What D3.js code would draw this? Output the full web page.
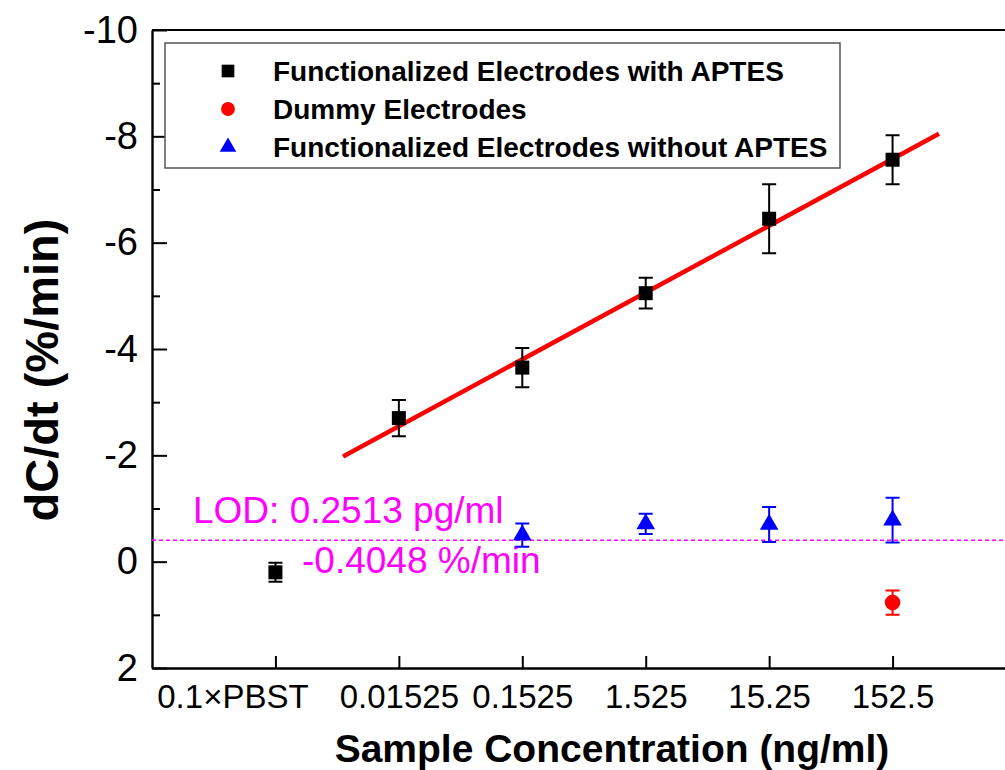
<!DOCTYPE html>
<html>
<head>
<meta charset="utf-8">
<script src="https://cdn.jsdelivr.net/npm/d3@7/dist/d3.min.js"></script>
<style>
  html, body { margin: 0; padding: 0; background: #fff; }
  svg { display: block; font-family: "Liberation Sans", Arial, sans-serif; }
</style>
</head>
<body>
<svg id="chart" width="1005" height="770"></svg>
<script>
// Sample concentrations (ng/ml) on the categorical x axis
const categories = ["0.1×PBST", "0.01525", "0.1525", "1.525", "15.25", "152.5"];

// Functionalized electrodes with APTES: mean dC/dt and error
const withAptesCats = ["0.1×PBST", "0.01525", "0.1525", "1.525", "15.25", "152.5"];
const withAptesVals = [0.2, -2.7, -3.65, -5.05, -6.45, -7.56];
const withAptesErr  = [0.18, 0.34, 0.37, 0.29, 0.65, 0.46];

// Dummy electrodes
const dummyCats = ["152.5"];
const dummyVals = [0.77];
const dummyErr  = [0.23];

// Functionalized electrodes without APTES
const withoutAptesCats = ["0.1525", "1.525", "15.25", "152.5"];
const withoutAptesVals = [-0.5, -0.71, -0.7, -0.78];
const withoutAptesErr  = [0.22, 0.19, 0.33, 0.42];

// Linear fit in category-index units: value = intercept + slope * index
const fitSlope = -1.257;
const fitIntercept = -1.291;
const fitIndexRange = [0.548, 5.376];

// Limit of detection level
const lodValue = -0.4048;
const lodLabel = "LOD: 0.2513 pg/ml";
const lodValueLabel = "-0.4048 %/min";

// Axis ticks
const yMajorTicks = [-10, -8, -6, -4, -2, 0, 2];
const yMinorTicks = [-9, -7, -5, -3, -1, 1];

const legendLabels = [
  "Functionalized Electrodes with APTES",
  "Dummy Electrodes",
  "Functionalized Electrodes without APTES"
];

const svg = d3.select("#chart");
const plotLeft = 152, plotRight = 1016, plotTop = 30, plotBottom = 668;

const xi = d3.scaleLinear().domain([-1, categories.length]).range([plotLeft, plotRight]);
const xc = c => xi(categories.indexOf(c));
const y = d3.scaleLinear().domain([-10, 2]).range([plotTop, plotBottom]);

// Frame (top and right edges)
svg.append("path")
  .attr("d", `M${plotLeft},${plotTop}H${plotRight}V${plotBottom}`)
  .attr("fill", "none").attr("stroke", "#000").attr("stroke-width", 2);

// Y axis with inward ticks
const yAxis = svg.append("g").attr("transform", `translate(${plotLeft},0)`)
  .call(d3.axisLeft(y).tickValues(yMajorTicks).tickSize(-15).tickSizeOuter(0)
    .tickPadding(14).tickFormat(d => String(d)));
svg.append("g").attr("transform", `translate(${plotLeft},0)`)
  .call(d3.axisLeft(y).tickValues(yMinorTicks).tickSize(-8).tickSizeOuter(0).tickFormat(""))
  .call(g => g.select(".domain").remove());

// X axis with inward ticks
const xAxis = svg.append("g").attr("transform", `translate(0,${plotBottom})`)
  .call(d3.axisBottom(xi).tickValues(d3.range(categories.length)).tickSize(-12).tickSizeOuter(0)
    .tickPadding(17).tickFormat(i => categories[i]));

svg.selectAll(".domain").attr("stroke-width", 2.4);
svg.selectAll(".tick line").attr("stroke-width", 2);
yAxis.selectAll("text").attr("font-size", 38).attr("fill", "#000")
  .attr("font-family", "Liberation Sans, Arial, sans-serif");
xAxis.selectAll("text").attr("font-size", 33).attr("fill", "#000")
  .attr("font-family", "Liberation Sans, Arial, sans-serif")
  .attr("dx", (d, i) => i === 0 ? -43 : 0);

// Axis titles
svg.append("text")
  .attr("x", 612).attr("y", 762)
  .attr("text-anchor", "middle").attr("font-weight", "bold").attr("font-size", 39)
  .text("Sample Concentration (ng/ml)");
svg.append("text")
  .attr("transform", "translate(58,370) rotate(-90)")
  .attr("text-anchor", "middle").attr("font-weight", "bold").attr("font-size", 47)
  .text("dC/dt (%/min)");

// LOD dashed line and labels
svg.append("line")
  .attr("x1", plotLeft).attr("x2", plotRight).attr("y1", y(lodValue)).attr("y2", y(lodValue))
  .attr("stroke", "#ff00ff").attr("stroke-width", 1.5).attr("stroke-dasharray", "4,3");
svg.append("text").attr("x", 193).attr("y", y(lodValue) - 17)
  .attr("fill", "#ff00ff").attr("font-size", 37).text(lodLabel);
svg.append("text").attr("x", 302).attr("y", y(lodValue) + 33)
  .attr("fill", "#ff00ff").attr("font-size", 37).text(lodValueLabel);

// Error bars + markers for one series
function drawSeries(cats, vals, errs, color, symbolType, size) {
  const g = svg.append("g");
  const data = cats.map((c, i) => ({ c, v: vals[i], e: errs[i] }));
  const capW = 7;
  data.forEach(d => {
    const x = xc(d.c), y1 = y(d.v - d.e), y2 = y(d.v + d.e);
    g.append("path")
      .attr("d", `M${x},${y1}V${y2}M${x - capW},${y1}H${x + capW}M${x - capW},${y2}H${x + capW}`)
      .attr("stroke", color).attr("stroke-width", 2).attr("fill", "none");
  });
  g.selectAll(".m").data(data).join("path")
    .attr("transform", d => `translate(${xc(d.c)},${y(d.v)})`)
    .attr("d", d3.symbol().type(symbolType).size(size))
    .attr("fill", color);
}

// Fit line
const fitLine = d3.line().x(d => xi(d)).y(d => y(fitIntercept + fitSlope * d));
svg.append("path").datum(fitIndexRange)
  .attr("d", fitLine).attr("stroke", "#ff0000").attr("stroke-width", 4.5).attr("fill", "none");

drawSeries(withAptesCats, withAptesVals, withAptesErr, "#000", d3.symbolSquare, 196);
drawSeries(withoutAptesCats, withoutAptesVals, withoutAptesErr, "#0000ff", d3.symbolTriangle, 150);
drawSeries(dummyCats, dummyVals, dummyErr, "#ff0000", d3.symbolCircle, 190);

// Legend
const legend = svg.append("g");
legend.append("rect").attr("x", 165).attr("y", 43).attr("width", 675).attr("height", 125)
  .attr("fill", "#fff").attr("stroke", "#555").attr("stroke-width", 1.5);
const legendSymbols = [
  { type: d3.symbolSquare, color: "#000", size: 160 },
  { type: d3.symbolCircle, color: "#ff0000", size: 150 },
  { type: d3.symbolTriangle, color: "#0000ff", size: 120 }
];
legendLabels.forEach((lab, i) => {
  const cy = 71 + i * 38;
  legend.append("path")
    .attr("transform", `translate(228,${cy})`)
    .attr("d", d3.symbol().type(legendSymbols[i].type).size(legendSymbols[i].size))
    .attr("fill", legendSymbols[i].color);
  legend.append("text").attr("x", 273).attr("y", cy + 10)
    .attr("font-weight", "bold").attr("font-size", 28).text(lab);
});
</script>
</body>
</html>
